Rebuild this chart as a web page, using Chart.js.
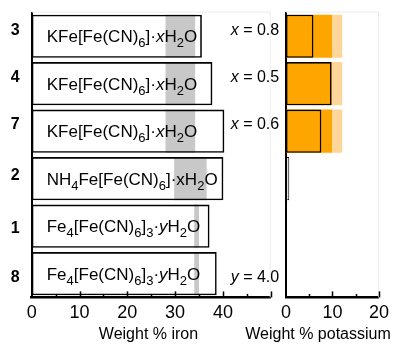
<!DOCTYPE html>
<html>
<head>
<meta charset="utf-8">
<script src="https://cdn.jsdelivr.net/npm/chart.js@4.4.1/dist/chart.umd.min.js"></script>
<style>
  html, body { margin: 0; padding: 0; background: #fff; }
  #wrap { position: relative; width: 394px; height: 344px; }
  #wrap canvas { position: absolute; left: 0; top: 0; }
</style>
</head>
<body>
<div id="wrap">
  <canvas id="ironChart" width="394" height="344"></canvas>
  <canvas id="kChart" width="394" height="344"></canvas>
</div>
<script>
const FONT = '"Liberation Sans", Arial, Helvetica, sans-serif';

// samples, top to bottom
const rows = ['3', '4', '7', '2', '1', '8'];
const formulaKind = ['K', 'K', 'K', 'NH4', 'Fe4', 'Fe4'];
const waterNotes = ['x = 0.8', 'x = 0.5', 'x = 0.6', '', '', 'y = 4.0'];

// weight % iron
const ironMeasured = [35.6, 37.8, 40.3, 40.1, 37.2, 38.7];
const ironExpected = [[28.0, 34.2], [28.0, 34.2], [28.0, 34.2], [29.8, 36.6], [34.0, 35.0], [34.0, 35.0]];
const ironTicks = [0, 10, 20, 30, 40];

// weight % potassium
const kMeasured = [5.9, 9.8, 7.6, 0.7, null, null];
const kExpectedLow = [[0, 9.9], [0, 9.9], [0, 9.9], null, null, null];
const kExpectedHigh = [[9.9, 12.1], [9.9, 12.1], [9.9, 12.1], null, null, null];
const kTicks = [0, 10, 20];

// formula pieces: '' normal, 's' subscript, 'i' italic
const formulas = {
  K:   [['KFe[Fe(CN)', ''], ['6', 's'], [']·', ''], ['x', 'i'], ['H', ''], ['2', 's'], ['O', '']],
  NH4: [['NH', ''], ['4', 's'], ['Fe[Fe(CN)', ''], ['6', 's'], [']·x', ''], ['H', ''], ['2', 's'], ['O', '']],
  Fe4: [['Fe', ''], ['4', 's'], ['[Fe(CN)', ''], ['6', 's'], [']', ''], ['3', 's'], ['·', ''], ['y', 'i'], ['H', ''], ['2', 's'], ['O', '']]
};

// small vertical nudges for the row labels / notes (as in the figure)
const labelNudge = [-5.5, -6, -7, -3, 2, 3.5];

function drawFormula(ctx, segs, x, y) {
  segs.forEach(([txt, st]) => {
    ctx.font = st === 's' ? '13px ' + FONT : (st === 'i' ? 'italic 17px ' + FONT : '17px ' + FONT);
    ctx.fillText(txt, x, st === 's' ? y + 5 : y);
    x += ctx.measureText(txt).width;
  });
}

// ticks point up into the plot
function drawUpTicks(chart) {
  const ctx = chart.ctx, xs = chart.scales.x, bottom = chart.chartArea.bottom;
  ctx.save();
  ctx.strokeStyle = '#000';
  ctx.lineWidth = 1.5;
  xs.ticks.forEach(t => {
    if (t.value === xs.min) return;
    const px = Math.round(xs.getPixelForValue(t.value)) + 0.5;
    const len = t.value % 10 === 0 ? 6 : 3.5;
    ctx.beginPath();
    ctx.moveTo(px, bottom);
    ctx.lineTo(px, bottom - len);
    ctx.stroke();
  });
  ctx.restore();
}

function drawFrame(chart) {
  const ctx = chart.ctx, a = chart.chartArea;
  ctx.save();
  ctx.strokeStyle = '#ececec';
  ctx.lineWidth = 1;
  ctx.beginPath();
  ctx.moveTo(a.left, a.top - 0.5);
  ctx.lineTo(a.right - 0.5, a.top - 0.5);
  ctx.lineTo(a.right - 0.5, a.bottom);
  ctx.stroke();
  ctx.restore();
}

function drawTitle(chart, text, cx) {
  const ctx = chart.ctx;
  ctx.save();
  ctx.fillStyle = '#000';
  ctx.font = '16px ' + FONT;
  ctx.textAlign = 'center';
  ctx.textBaseline = 'middle';
  ctx.fillText(text, cx, chart.chartArea.bottom + 37);
  ctx.restore();
}

const ironPlugin = {
  id: 'ironText',
  beforeDatasetsDraw(chart) { drawFrame(chart); },
  afterDraw(chart) {
    const ctx = chart.ctx, xs = chart.scales.x, ys = chart.scales.y, a = chart.chartArea;
    drawUpTicks(chart);
    drawTitle(chart, 'Weight % iron', 148.5);
    ctx.save();
    ctx.fillStyle = '#000';
    rows.forEach((r, i) => {
      const cy = ys.getPixelForValue(i);
      // row number
      ctx.font = 'bold 16px ' + FONT;
      ctx.textAlign = 'right';
      ctx.textBaseline = 'middle';
      ctx.fillText(r, a.left - 12, cy + labelNudge[i]);
      // formula inside the bar
      ctx.textAlign = 'left';
      ctx.textBaseline = 'alphabetic';
      drawFormula(ctx, formulas[formulaKind[i]], xs.getPixelForValue(0) + 15, cy + 6);
      // water note
      const note = waterNotes[i];
      if (note) {
        ctx.textBaseline = 'middle';
        ctx.font = 'italic 16px ' + FONT;
        const w0 = ctx.measureText(note[0]).width;
        ctx.font = '16px ' + FONT;
        const w1 = ctx.measureText(note.slice(1)).width;
        const x0 = a.right + 8.5 - w0 - w1;
        ctx.font = 'italic 16px ' + FONT;
        ctx.fillText(note[0], x0, cy + labelNudge[i]);
        ctx.font = '16px ' + FONT;
        ctx.fillText(note.slice(1), x0 + w0, cy + labelNudge[i]);
      }
    });
    ctx.restore();
  }
};

const kPlugin = {
  id: 'kText',
  beforeDatasetsDraw(chart) { drawFrame(chart); },
  afterDraw(chart) {
    drawUpTicks(chart);
    drawTitle(chart, 'Weight % potassium', 318);
  }
};

const barCommon = { grouped: false, barPercentage: 0.91, categoryPercentage: 1 };

function xAxis(ticksShown) {
  return {
    min: 0,
    grid: { display: false, drawTicks: false },
    border: { display: true, color: '#000', width: 2.5 },
    ticks: {
      stepSize: 5, padding: 5, color: '#000', autoSkip: false, maxRotation: 0,
      font: { family: FONT, size: 18 },
      callback: v => ticksShown.includes(v) ? String(v) : ''
    }
  };
}

const yAxis = {
  grid: { display: false, drawTicks: false },
  border: { display: true, color: '#000', width: 2 },
  ticks: { display: false }
};

const chartPadding = { top: 12.5, bottom: 15 };

new Chart(document.getElementById('ironChart'), {
  type: 'bar',
  data: {
    labels: rows,
    datasets: [
      Object.assign({ data: ironExpected, backgroundColor: '#c8c8c8', borderWidth: 0, order: 2 }, barCommon),
      Object.assign({ data: ironMeasured, backgroundColor: 'rgba(0,0,0,0)', borderColor: '#000', borderWidth: 1.6, borderSkipped: false, order: 1 }, barCommon)
    ]
  },
  options: {
    indexAxis: 'y',
    responsive: false,
    animation: false,
    layout: { padding: Object.assign({ left: 31.7, right: 123.3 }, chartPadding) },
    plugins: { legend: { display: false }, tooltip: { enabled: false } },
    scales: { x: Object.assign(xAxis(ironTicks), { max: 50 }), y: yAxis }
  },
  plugins: [ironPlugin]
});

new Chart(document.getElementById('kChart'), {
  type: 'bar',
  data: {
    labels: rows,
    datasets: [
      Object.assign({ data: kExpectedLow, backgroundColor: '#ffa500', borderWidth: 0, order: 3 }, barCommon),
      Object.assign({ data: kExpectedHigh, backgroundColor: '#ffd699', borderWidth: 0, order: 2 }, barCommon),
      Object.assign({
        data: kMeasured,
        backgroundColor: ['#ffa500', '#ffa500', '#ffa500', '#e4e4e4', '#ffffff', '#ffffff'],
        borderColor: '#000', borderWidth: [1.6, 1.6, 1.6, 1, 1, 1], borderSkipped: false, order: 1
      }, barCommon)
    ]
  },
  options: {
    indexAxis: 'y',
    responsive: false,
    animation: false,
    layout: { padding: Object.assign({ left: 286, right: 12 }, chartPadding) },
    plugins: { legend: { display: false }, tooltip: { enabled: false } },
    scales: { x: Object.assign(xAxis(kTicks), { max: 20 }), y: yAxis }
  },
  plugins: [kPlugin]
});
</script>
</body>
</html>
